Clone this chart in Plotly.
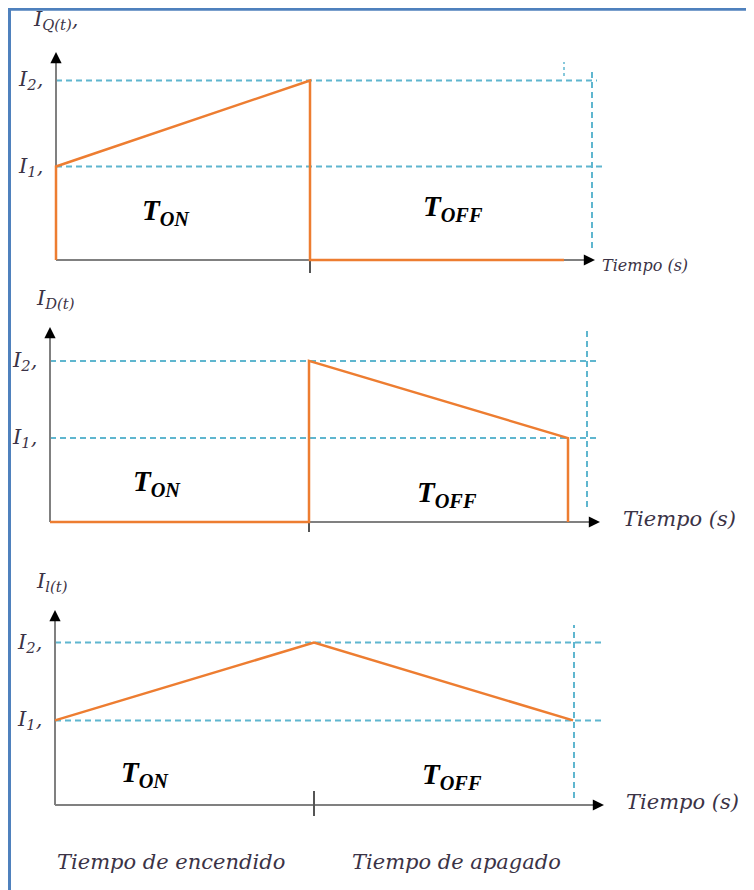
import plotly.graph_objects as go

W, H = 754, 890
OFF = 8  # the page body margin shifts the figure by 8 px

# ---------------- data ----------------
T_ON = 1.0          # switch conduction time (normalised)
T_OFF = 1.0         # switch blocking time (normalised)
I1 = 1.0            # valley current
I2 = 1.92           # peak current
T = T_ON + T_OFF

# switch current i_Q(t)
t_q = [0, 0, T_ON, T_ON, T]
i_q = [0, I1, I2, 0, 0]
# diode current i_D(t)
t_d = [0, T_ON, T_ON, T, T]
i_d = [0, 0, I2, I1, 0]
# inductor current i_L(t)
t_l = [0, T_ON, T]
i_l = [I1, I2, I1]

panel_names = ["I<sub>Q(t)</sub>,", "I<sub>D(t)</sub>", "I<sub>l(t)</sub>"]
level_values = [I1, I2]
level_names = ["I<sub>1</sub>,", "I<sub>2</sub>,"]
time_label = "Tiempo (s)"
phase_names = ["Tiempo de encendido", "Tiempo de apagado"]
ton_label = "<b><i>T</i></b><b><i><sub>ON</sub></i></b>"
toff_label = "<b><i>T</i></b><b><i><sub>OFF</sub></i></b>"

series = [(t_q, i_q), (t_d, i_d), (t_l, i_l)]

# ---------------- layout geometry (screen pixels) ----------------
geo = [
    dict(ox=56, oy=260, sx=254, sy=93.5, top=10, bot=290, xtip=595, ytip=52,
         vg=592, vg0=72, vg1=248, h_end=[605, 597], tick=(0, -13),
         title=(31, 20), ton=(166, 212), toff=(453, 208), tl=(600, 265), tl_size=16),
    dict(ox=50, oy=522, sx=259, sy=83.9, top=290, bot=548, xtip=600, ytip=327,
         vg=587, vg0=330, vg1=507, h_end=[600, 600], tick=(0, -10),
         title=(34, 299), ton=(157, 483), toff=(447, 494), tl=(621, 519), tl_size=21),
    dict(ox=55, oy=805, sx=259, sy=84.6, top=555, bot=840, xtip=604, ytip=610,
         vg=574, vg0=625, vg1=798, h_end=[605, 605], tick=(14, -11),
         title=(34, 582), ton=(145, 774), toff=(452, 776), tl=(624, 802), tl_size=21),
]
phase_pos = [(171, 862), (457, 862)]

ORANGE = "#ED7D31"
DASH = "#5FB6CF"
AXIS = "#808080"
TXT = "#3b3346"
SERIF = "DejaVu Serif"

FW, FH = W - OFF, H - OFF

fig = go.Figure()
shapes = []
annotations = []
layout_axes = {}


def dx(g, px):
    return (px - g["ox"]) / g["sx"]


def dy(g, py):
    return (g["oy"] - py) / g["sy"]


def pxp(px):
    return (px - OFF) / FW


def pyp(py):
    return 1 - (py - OFF) / FH


for k, (g, (tx, iy)) in enumerate(zip(geo, series), start=1):
    xa = "x" if k == 1 else f"x{k}"
    ya = "y" if k == 1 else f"y{k}"
    xkey = "xaxis" if k == 1 else f"xaxis{k}"
    ykey = "yaxis" if k == 1 else f"yaxis{k}"
    layout_axes[xkey] = dict(domain=[0, 1], range=[dx(g, OFF), dx(g, W)], visible=False,
                             anchor=ya, fixedrange=True)
    layout_axes[ykey] = dict(domain=[pyp(g["bot"]), pyp(g["top"])],
                             range=[dy(g, g["bot"]), dy(g, g["top"])], visible=False,
                             anchor=xa, fixedrange=True)

    # dashed guide lines at I1 and I2
    for lv, lend in zip(level_values, g["h_end"]):
        shapes.append(dict(type="line", xref=xa, yref=ya, x0=0, x1=dx(g, lend), y0=lv, y1=lv,
                           line=dict(color=DASH, width=2, dash="6px,4px"), layer="below"))
    # vertical dashed guide at end of period
    shapes.append(dict(type="line", xref=xa, yref=ya, x0=dx(g, g["vg"]), x1=dx(g, g["vg"]),
                       y0=dy(g, g["vg1"]), y1=dy(g, g["vg0"]),
                       line=dict(color=DASH, width=2, dash="6px,4px"), layer="below"))
    if k == 1:
        # small stray dashed stub above the end of the waveform
        shapes.append(dict(type="line", xref=xa, yref=ya, x0=T, x1=T,
                           y0=dy(g, 76), y1=dy(g, 62),
                           line=dict(color=DASH, width=1.5, dash="3px,3px"), layer="below"))
    # axes
    shapes.append(dict(type="line", xref=xa, yref=ya, x0=0, x1=dx(g, g["xtip"] - 4), y0=0, y1=0,
                       line=dict(color=AXIS, width=2), layer="below"))
    shapes.append(dict(type="line", xref=xa, yref=ya, x0=0, x1=0, y0=0, y1=dy(g, g["ytip"] + 4),
                       line=dict(color=AXIS, width=2), layer="below"))
    # tick at T_ON
    shapes.append(dict(type="line", xref=xa, yref=ya, x0=T_ON, x1=T_ON,
                       y0=g["tick"][0] / g["sy"], y1=g["tick"][1] / g["sy"],
                       line=dict(color="#555555", width=2), layer="below"))
    # arrow heads
    annotations.append(dict(xref=xa, yref=ya, axref=xa, ayref=ya,
                            x=dx(g, g["xtip"]), y=0, ax=dx(g, g["xtip"] - 12), ay=0,
                            showarrow=True, arrowhead=2, arrowsize=1.4, arrowwidth=1.6,
                            arrowcolor="black", text=""))
    annotations.append(dict(xref=xa, yref=ya, axref=xa, ayref=ya,
                            x=0, y=dy(g, g["ytip"]), ax=0, ay=dy(g, g["ytip"] + 12),
                            showarrow=True, arrowhead=2, arrowsize=1.4, arrowwidth=1.6,
                            arrowcolor="black", text=""))

    # waveform
    fig.add_trace(go.Scatter(x=tx, y=iy, xaxis=xa, yaxis=ya, mode="lines",
                             line=dict(color=ORANGE, width=2.5), hoverinfo="skip",
                             showlegend=False, cliponaxis=False))

    # labels
    annotations.append(dict(xref=xa, yref=ya, x=dx(g, g["title"][0]), y=dy(g, g["title"][1]),
                            text="<i>" + panel_names[k - 1] + "</i>", showarrow=False,
                            xanchor="left", yanchor="middle",
                            font=dict(family=SERIF, size=21, color=TXT)))
    for lv, ln in zip(level_values, level_names):
        annotations.append(dict(xref=xa, yref=ya, x=0, y=lv, xshift=-11,
                                text="<i>" + ln + "</i>", showarrow=False,
                                xanchor="right", yanchor="middle",
                                font=dict(family=SERIF, size=21, color=TXT)))
    annotations.append(dict(xref=xa, yref=ya, x=dx(g, g["ton"][0]), y=dy(g, g["ton"][1]),
                            text=ton_label, showarrow=False, xanchor="center", yanchor="middle",
                            font=dict(family="Liberation Serif", size=29, color="black")))
    annotations.append(dict(xref=xa, yref=ya, x=dx(g, g["toff"][0]), y=dy(g, g["toff"][1]),
                            text=toff_label, showarrow=False, xanchor="center", yanchor="middle",
                            font=dict(family="Liberation Serif", size=29, color="black")))
    annotations.append(dict(xref=xa, yref=ya, x=dx(g, g["tl"][0]), y=dy(g, g["tl"][1]),
                            text="<i>" + time_label + "</i>", showarrow=False,
                            xanchor="left", yanchor="middle",
                            font=dict(family=SERIF, size=g["tl_size"], color=TXT)))

# phase names under the last panel
for name, (cx, cy) in zip(phase_names, phase_pos):
    annotations.append(dict(xref="paper", yref="paper", x=pxp(cx), y=pyp(cy),
                            text="<i>" + name + "</i>", showarrow=False,
                            xanchor="center", yanchor="middle",
                            font=dict(family=SERIF, size=21, color=TXT)))

# blue frame (left and top edges)
shapes.append(dict(type="line", xref="paper", yref="paper", x0=pxp(9.5), x1=pxp(9.5),
                   y0=0, y1=pyp(8), line=dict(color="#4F81BD", width=3)))
shapes.append(dict(type="line", xref="paper", yref="paper", x0=pxp(8), x1=1,
                   y0=pyp(9.2), y1=pyp(9.2), line=dict(color="#4F81BD", width=3)))

fig.update_layout(width=FW, height=FH, margin=dict(l=0, r=0, t=0, b=0),
                  paper_bgcolor="white", plot_bgcolor="rgba(0,0,0,0)",
                  shapes=shapes, annotations=annotations, showlegend=False,
                  **layout_axes)

fig.write_html("out.html", config={"displayModeBar": False})
